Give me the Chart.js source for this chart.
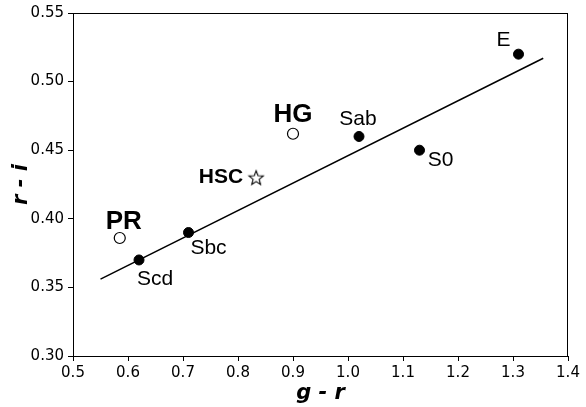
<!DOCTYPE html>
<html>
<head>
<meta charset="utf-8">
<script src="https://cdn.jsdelivr.net/npm/chart.js@4/dist/chart.umd.min.js"></script>
<style>
html, body { margin: 0; padding: 0; background: #fff; }
#wrap { width: 586px; height: 407px; }
</style>
</head>
<body>
<div id="wrap"><canvas id="chart" width="586" height="407"></canvas></div>
<script>
// galaxy types (filled dots)
var typeNames = ['Scd', 'Sbc', 'Sab', 'S0', 'E'];
var typeGR = [0.62, 0.71, 1.02, 1.13, 1.31];
var typeRI = [0.37, 0.39, 0.46, 0.45, 0.52];

// samples (open circles)
var sampleNames = ['PR', 'HG'];
var sampleGR = [0.585, 0.90];
var sampleRI = [0.386, 0.462];

// HSC (star)
var hscNames = ['HSC'];
var hscGR = [0.833];
var hscRI = [0.430];

// fitted line
var fitGR = [0.55, 1.355];
var fitRI = [0.356, 0.517];

var xTicks = [0.5, 0.6, 0.7, 0.8, 0.9, 1.0, 1.1, 1.2, 1.3, 1.4];
var yTicks = [0.30, 0.35, 0.40, 0.45, 0.50, 0.55];

function pts(xs, ys) {
	var out = [];
	for (var i = 0; i < xs.length; i++) out.push({x: xs[i], y: ys[i]});
	return out;
}

// label placement, offsets in px from the mark
var labelStyle = {
	'Scd': {dx: 16, dy: 19, font: '21px "Liberation Sans"', align: 'center'},
	'Sbc': {dx: 20, dy: 16, font: '21px "Liberation Sans"', align: 'center'},
	'Sab': {dx: -1, dy: -17, font: '21px "Liberation Sans"', align: 'center'},
	'S0': {dx: 21, dy: 10, font: '21px "Liberation Sans"', align: 'center'},
	'E': {dx: -15, dy: -14, font: '21px "Liberation Sans"', align: 'center'},
	'PR': {dx: 4, dy: -16, font: 'bold 26px "Liberation Sans"', align: 'center'},
	'HG': {dx: 0, dy: -19, font: 'bold 26px "Liberation Sans"', align: 'center'},
	'HSC': {dx: -13, dy: 0, font: 'bold 21px "Liberation Sans"', align: 'right'}
};

// five point star as point style
var star = document.createElement('canvas');
star.width = 18; star.height = 18;
(function () {
	var g = star.getContext('2d');
	g.beginPath();
	for (var i = 0; i < 10; i++) {
		var r = i % 2 === 0 ? 7.5 : 3.2;
		var a = -Math.PI / 2 + i * Math.PI / 5;
		var px = 9 + r * Math.cos(a), py = 9.6 + r * Math.sin(a);
		if (i === 0) g.moveTo(px, py); else g.lineTo(px, py);
	}
	g.closePath();
	g.fillStyle = '#fff';
	g.fill();
	g.lineWidth = 1.1;
	g.strokeStyle = '#000';
	g.stroke();
})();

var labelPlugin = {
	id: 'labels',
	afterDatasetsDraw: function (chart) {
		var ctx = chart.ctx, a = chart.chartArea;
		var xs = chart.scales.x, ys = chart.scales.y;
		ctx.save();
		ctx.strokeStyle = '#000';
		ctx.lineWidth = 1;
		ctx.strokeRect(a.left + 0.5, a.top + 0.5, a.right - a.left - 1, a.bottom - a.top);
		ctx.fillStyle = '#000';
		ctx.textBaseline = 'middle';
		var groups = [[typeNames, typeGR, typeRI], [sampleNames, sampleGR, sampleRI], [hscNames, hscGR, hscRI]];
		groups.forEach(function (g) {
			for (var i = 0; i < g[0].length; i++) {
				var s = labelStyle[g[0][i]];
				ctx.font = s.font;
				ctx.textAlign = s.align;
				ctx.fillText(g[0][i], xs.getPixelForValue(g[1][i]) + s.dx, ys.getPixelForValue(g[2][i]) + s.dy);
			}
		});
		ctx.restore();
	}
};

var tickFont = {family: 'DejaVu Sans', size: 15};
var titleFont = {family: 'DejaVu Sans', size: 21, weight: 'bold', style: 'italic'};

new Chart(document.getElementById('chart'), {
	type: 'scatter',
	plugins: [labelPlugin],
	data: {
		datasets: [
			{
				type: 'line',
				data: pts(fitGR, fitRI),
				borderColor: '#000',
				borderWidth: 1.5,
				pointRadius: 0,
				fill: false
			},
			{
				data: pts(typeGR, typeRI),
				backgroundColor: '#000',
				borderColor: '#000',
				pointRadius: 5
			},
			{
				data: pts(sampleGR, sampleRI),
				backgroundColor: '#fff',
				borderColor: '#000',
				borderWidth: 1.2,
				pointRadius: 5.5
			},
			{
				data: pts(hscGR, hscRI),
				pointStyle: star
			}
		]
	},
	options: {
		responsive: false,
		animation: false,
		layout: {padding: {left: 0, top: 11, right: 18, bottom: 0}},
		plugins: {legend: {display: false}, tooltip: {enabled: false}},
		scales: {
			x: {
				type: 'linear',
				min: 0.5, max: 1.4,
				afterBuildTicks: function (s) { s.ticks = xTicks.map(function (v) { return {value: v}; }); },
				afterFit: function (s) { s.height = 51; },
				grid: {drawOnChartArea: false, drawTicks: true, tickLength: 5, tickColor: '#000'},
				border: {display: true, color: '#000'},
				ticks: {font: tickFont, color: '#000', padding: 3, maxRotation: 0,
					callback: function (v) { return Number(v).toFixed(1); }},
				title: {display: true, text: 'g - r', font: titleFont, color: '#000', padding: {top: 0, bottom: 1}}
			},
			y: {
				type: 'linear',
				min: 0.30, max: 0.55,
				afterBuildTicks: function (s) { s.ticks = yTicks.map(function (v) { return {value: v}; }); },
				afterFit: function (s) { s.width = 73; },
				grid: {drawOnChartArea: false, drawTicks: true, tickLength: 5, tickColor: '#000'},
				border: {display: true, color: '#000'},
				ticks: {font: tickFont, color: '#000', padding: 4,
					callback: function (v) { return Number(v).toFixed(2); }},
				title: {display: true, text: 'r - i', font: titleFont, color: '#000', padding: {top: 9, bottom: 0}}
			}
		}
	}
});
</script>
</body>
</html>
